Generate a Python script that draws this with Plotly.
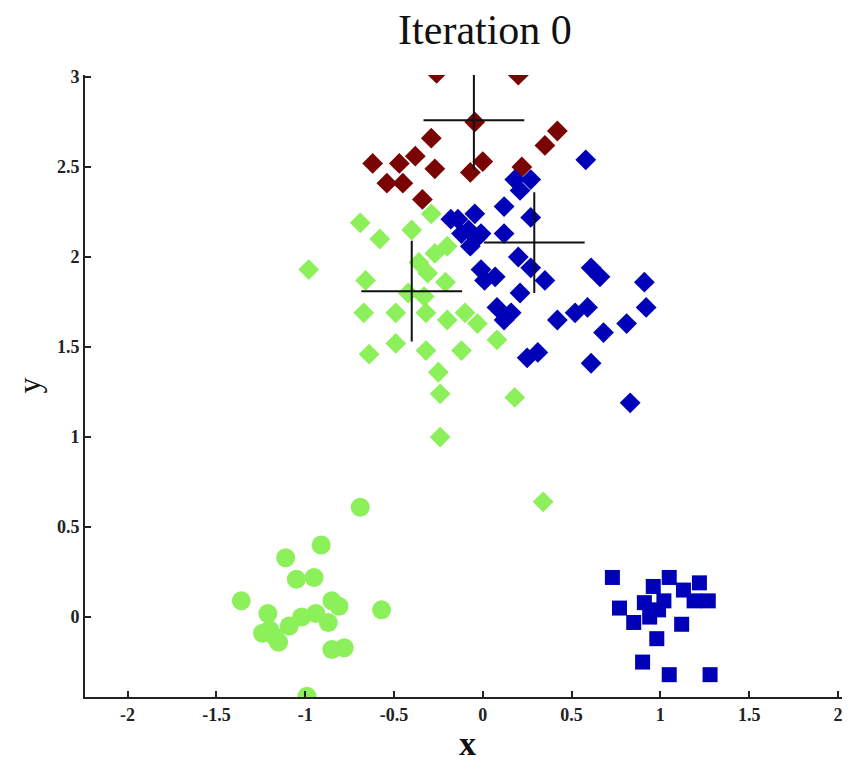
import plotly.graph_objects as go

# ---- data ----
brown_x = [-0.26, 0.20, -0.045, -0.29, 0.35, 0.42, -0.62, -0.47, -0.38, -0.27, -0.54, -0.45, -0.07, 0.0, 0.22, -0.34]
brown_y = [3.02, 3.01, 2.75, 2.66, 2.62, 2.70, 2.52, 2.52, 2.56, 2.49, 2.41, 2.41, 2.47, 2.53, 2.50, 2.32]

blue_d_x = [0.58, 0.18, 0.27, 0.21, 0.12, 0.27, -0.14, -0.045, -0.08, 0.12, -0.01,
            -0.18, -0.12, -0.03, -0.07, 0.20, 0.27, 0.35, -0.01, 0.07, 0.01, 0.21,
            0.08, 0.16, 0.12, 0.61, 0.66, 0.91, 0.92, 0.59, 0.52, 0.42, 0.81, 0.68,
            0.31, 0.61, 0.83, 0.25]
blue_d_y = [2.54, 2.43, 2.43, 2.37, 2.28, 2.22, 2.21, 2.24, 2.15, 2.13, 2.13,
            2.21, 2.13, 2.11, 2.06, 2.00, 1.94, 1.87, 1.93, 1.89, 1.87, 1.80,
            1.72, 1.69, 1.65, 1.94, 1.89, 1.86, 1.72, 1.72, 1.69, 1.65, 1.63, 1.58,
            1.47, 1.41, 1.19, 1.44]

green_d_x = [-0.98, -0.69, -0.58, -0.66, -0.67, -0.64, -0.49, -0.49, -0.40, -0.29, -0.36,
             -0.27, -0.20, -0.31, -0.21, -0.32, -0.32, -0.20, -0.10, -0.03, -0.12, 0.08,
             -0.25, -0.24, 0.18, -0.24, 0.34, -0.42, -0.33]
green_d_y = [1.93, 2.19, 2.10, 1.87, 1.69, 1.46, 1.52, 1.69, 2.15, 2.24, 1.97,
             2.02, 2.06, 1.91, 1.86, 1.69, 1.48, 1.65, 1.69, 1.63, 1.48, 1.54,
             1.36, 1.24, 1.22, 1.00, 0.64, 1.80, 1.78]

green_c_x = [-0.69, -0.91, -1.11, -1.05, -0.95, -1.36, -1.21, -1.24, -1.17, -1.09, -1.02,
             -0.94, -0.85, -0.81, -0.87, -0.57, -0.85, -0.78, -0.99, -1.20, -1.15]
green_c_y = [0.61, 0.40, 0.33, 0.21, 0.22, 0.09, 0.02, -0.09, -0.11, -0.05, 0.0,
             0.02, 0.09, 0.06, -0.03, 0.04, -0.18, -0.17, -0.44, -0.07, -0.14]

blue_s_x = [0.73, 0.77, 0.85, 0.91, 0.96, 1.05, 0.99, 1.02, 1.13, 1.22, 1.27, 1.19,
            1.12, 0.98, 0.90, 1.05, 1.28, 0.94]
blue_s_y = [0.22, 0.05, -0.03, 0.08, 0.17, 0.22, 0.04, 0.09, 0.15, 0.19, 0.09, 0.09,
            -0.04, -0.12, -0.25, -0.32, -0.32, 0.0]

centroid_x = [-0.05, 0.29, -0.40]
centroid_y = [2.76, 2.08, 1.81]

x_ticks = [-2, -1.5, -1, -0.5, 0, 0.5, 1, 1.5, 2]
y_ticks = [0, 0.5, 1, 1.5, 2, 2.5, 3]

BROWN = "#7a0404"
BLUE = "#0000b8"
GREEN = "#8cf05a"

fig = go.Figure()
fig.add_trace(go.Scatter(x=brown_x, y=brown_y, mode="markers",
                         marker=dict(symbol="diamond", size=16, color=BROWN)))
fig.add_trace(go.Scatter(x=blue_d_x, y=blue_d_y, mode="markers",
                         marker=dict(symbol="diamond", size=16, color=BLUE)))
fig.add_trace(go.Scatter(x=green_d_x, y=green_d_y, mode="markers",
                         marker=dict(symbol="diamond", size=16, color=GREEN)))
fig.add_trace(go.Scatter(x=green_c_x, y=green_c_y, mode="markers",
                         marker=dict(symbol="circle", size=19, color=GREEN)))
fig.add_trace(go.Scatter(x=blue_s_x, y=blue_s_y, mode="markers",
                         marker=dict(symbol="square", size=15, color=BLUE)))
fig.add_trace(go.Scatter(x=centroid_x, y=centroid_y, mode="markers",
                         marker=dict(symbol="cross-thin", size=72,
                                     line=dict(color="#111111", width=2))))

tickfont = dict(family="Liberation Serif", size=18, color="#222", weight="bold")
fig.update_layout(
    width=842, height=774,
    margin=dict(l=77, r=0, t=67, b=85),
    plot_bgcolor="white", paper_bgcolor="white",
    showlegend=False,
    title=dict(text="Iteration 0", x=0.5665, xanchor="center", y=0.972, yanchor="middle",
               font=dict(family="Liberation Serif", size=42, color="#111")),
    xaxis=dict(range=[-2.24, 2.068], tickvals=x_ticks, ticktext=[str(v) for v in x_ticks],
               showgrid=False, zeroline=False, showline=True, linecolor="#222", linewidth=2,
               ticks="inside", ticklen=6, tickcolor="#222", tickwidth=2, tickfont=tickfont,
               automargin=False,
               title=dict(text="x", font=dict(family="Liberation Serif", size=34, color="#111",
                                              weight="bold"), standoff=8)),
    yaxis=dict(range=[-0.444, 3.011], tickvals=y_ticks, ticktext=[str(v) for v in y_ticks],
               showgrid=False, zeroline=False, showline=True, linecolor="#222", linewidth=2,
               ticks="inside", ticklen=6, tickcolor="#222", tickwidth=2, tickfont=tickfont,
               automargin=False),
)
fig.add_annotation(text="y", xref="paper", yref="paper", x=-0.1, xanchor="left",
                   y=0.5, yanchor="middle", showarrow=False,
                   textangle=-90, font=dict(family="Liberation Serif", size=32, color="#111"))

fig.write_html("out.html")
